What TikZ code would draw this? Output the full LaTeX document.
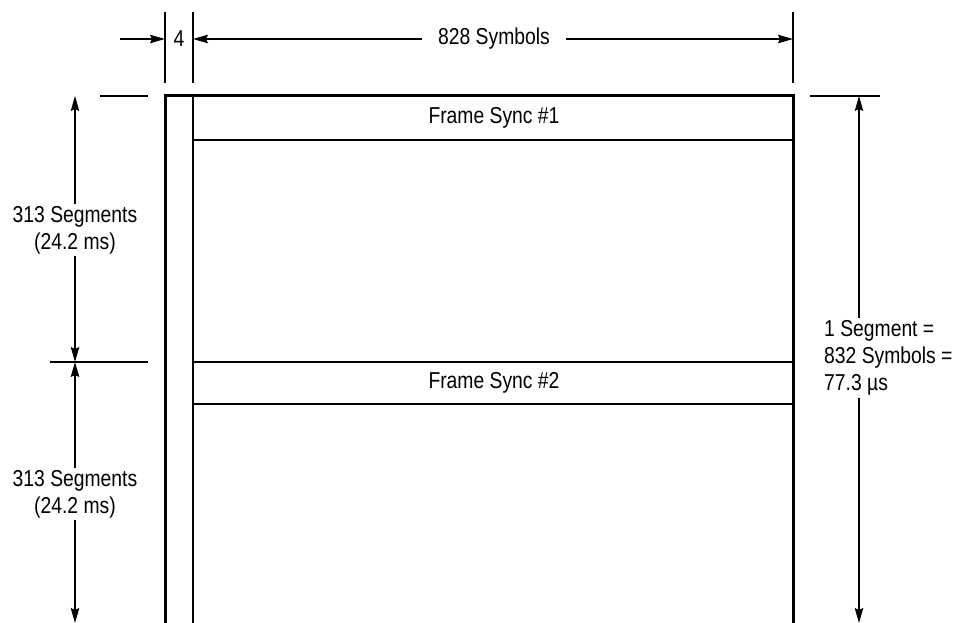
\documentclass[tikz,border=0pt]{standalone}
\usepackage{fontspec}
\setmainfont{Liberation Sans}[FakeStretch=0.84]
\usetikzlibrary{arrows.meta}
\begin{document}
\begin{tikzpicture}[x=1pt,y=-1pt,
  lbl/.style={font=\fontsize{23}{27}\selectfont, inner sep=0pt},
  thinln/.style={line width=1.2pt},
  dim/.style={line width=1.3pt, -{Stealth[length=15pt,width=8.5pt,inset=2pt]}},
  framel/.style={line width=3pt, line join=miter}]
\useasboundingbox (0,0) rectangle (954,623);
% frame
\draw[framel] (165,623) -- (165,96) -- (793,96) -- (793,623);
\draw[thinln] (193,96) -- (193,623);
\draw[thinln] (193,140) -- (793,140);
\draw[thinln] (193,362) -- (793,362);
\draw[thinln] (193,404) -- (793,404);
\node[lbl] (fs1) at (494,118) {Frame Sync \#1};
\node[lbl] (fs2) at (494,383) {Frame Sync \#2};
% extension lines top
\draw[thinln] (165,12) -- (165,83);
\draw[thinln] (193,12) -- (193,83);
\draw[thinln] (793,12) -- (793,83);
% tick lines
\draw[thinln] (100,96) -- (148,96);
\draw[thinln] (50,362) -- (148,362);
\draw[thinln] (810,96) -- (880,96);
% top dimensions
\coordinate (s4) at (120,39);
\coordinate (a165) at (165,39);
\coordinate (a193) at (193,39);
\coordinate (a793) at (793,39);
\node[lbl] (n4) at (179,39) {4};
\node[lbl, inner xsep=16pt] (n828) at (494,39) {828 Symbols};
\draw[dim] (s4) -- (a165);
\draw[dim] (n828) -- (a193);
\draw[dim] (n828) -- (a793);
% left dimensions
\coordinate (l1) at (75,96);
\coordinate (l2) at (75,362);
\coordinate (l3) at (75,623);
\node[lbl, align=center, inner ysep=2pt] (seg1) at (75,230) {313 Segments\\(24.2 ms)};
\node[lbl, align=center, inner ysep=2pt] (seg2) at (75,494) {313 Segments\\(24.2 ms)};
\draw[dim] (seg1) -- (l1);
\draw[dim] (seg1) -- (l2);
\draw[dim] (seg2) -- (l2);
\draw[dim] (seg2) -- (l3);
% right dimension
\coordinate (r1) at (859,96);
\coordinate (r2) at (859,623);
\node[lbl, align=left, anchor=west, inner ysep=2pt] (segr) at (824,358) {1 Segment =\\832 Symbols =\\77.3 µs};
\draw[dim] (segr.north -| r1) -- (r1);
\draw[dim] (segr.south -| r2) -- (r2);
\end{tikzpicture}
\end{document}
